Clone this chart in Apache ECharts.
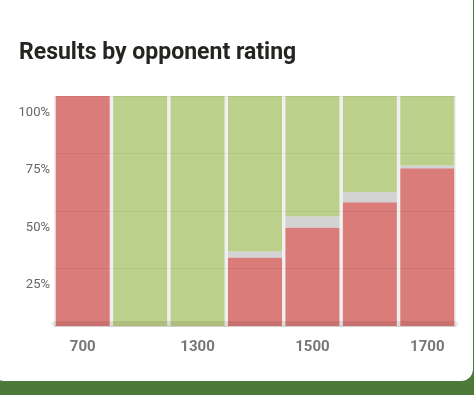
<!DOCTYPE html>
<html>
<head>
<meta charset="utf-8">
<script src="https://cdn.jsdelivr.net/npm/echarts@6/dist/echarts.min.js"></script>
<style>
  html, body { margin: 0; padding: 0; width: 474px; height: 395px; overflow: hidden;
    background: #4c7a39; }
  #card { position: absolute; left: -8px; top: -20px; width: 481px; height: 401px;
    background: #fff; border-radius: 0 0 12px 12px; }
  #chart { position: absolute; left: 8px; top: 20px; width: 474px; height: 395px; }
</style>
</head>
<body>
<div id="card"><div id="chart"></div></div>
<script>
const categories = ['700', '1200', '1300', '1400', '1500', '1600', '1700'];
const lossPct = [100, 0, 0, 29.8, 42.8, 53.8, 68.6];
const drawPct = [0, 0, 0, 2.6, 4.9, 4.5, 1.2];
const winPct  = [0, 100, 100, 67.6, 52.3, 41.7, 30.2];
const yTicks = [0, 25, 50, 75, 100];

const chart = echarts.init(document.getElementById('chart'), null, { renderer: 'canvas' });
chart.setOption({
  animation: false,
  textStyle: { fontFamily: 'Roboto' },
  title: {
    text: 'Results by opponent rating',
    left: 14, top: 37,
    textStyle: { fontFamily: 'Roboto', fontSize: 23, fontWeight: 'bold', color: '#262421' }
  },
  grid: { left: 54, right: 18, top: 96, bottom: 69, show: true, backgroundColor: '#f0f0f0', borderWidth: 0 },
  xAxis: [{
    type: 'category', data: categories,
    axisTick: { show: false },
    axisLine: { show: true, lineStyle: { color: '#dddddd', width: 1 } },
    axisLabel: { interval: 1, color: '#777', fontSize: 15, fontWeight: 'bold', margin: 14, fontFamily: 'Roboto' }
  }, {
    type: 'category', data: categories, position: 'bottom', offset: -2.5, z: 5,
    axisTick: { show: false }, axisLabel: { show: false },
    axisLine: { show: true, lineStyle: { color: 'rgba(60,0,0,0.09)', width: 5 } }
  }],
  yAxis: {
    type: 'value', min: yTicks[0], max: yTicks[yTicks.length - 1], interval: 25, z: 5,
    axisLine: { show: false }, axisTick: { show: false },
    splitLine: { show: true, lineStyle: { color: 'rgba(0,0,0,0.055)', width: 1 } },
    axisLabel: {
      color: '#666', fontSize: 13, margin: 4, verticalAlign: 'top', padding: [10, 0, 0, 0],
      formatter: v => v === 0 ? '' : v + '%'
    }
  },
  series: [
    { name: 'Loss', type: 'bar', stack: 'r', data: lossPct, barCategoryGap: '6%', itemStyle: { color: '#d97c7a' } },
    { name: 'Draw', type: 'bar', stack: 'r', data: drawPct, itemStyle: { color: '#d3d3d3' } },
    { name: 'Win', type: 'bar', stack: 'r', data: winPct, itemStyle: { color: '#bbd08b' } }
  ]
});
</script>
</body>
</html>
